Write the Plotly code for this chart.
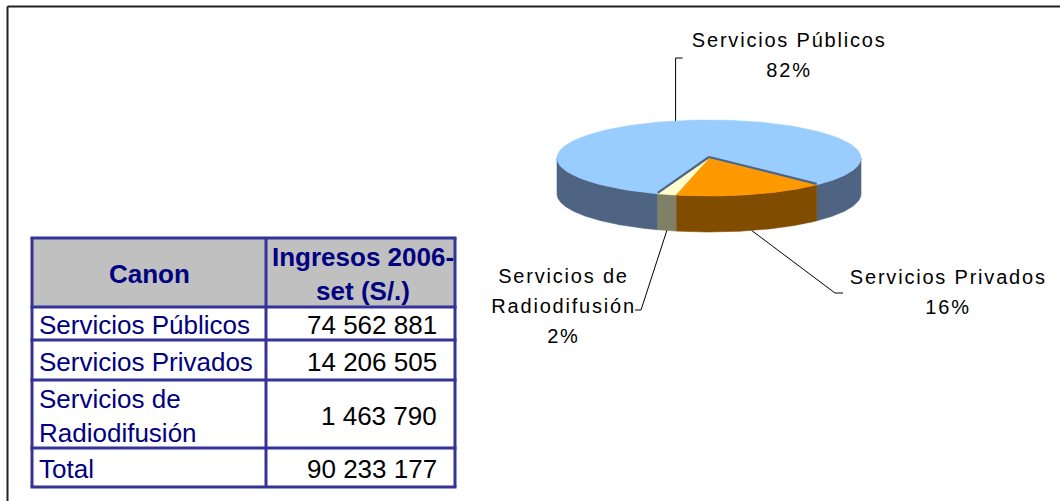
import numpy as np
import plotly.graph_objects as go

# ---- data -------------------------------------------------------------
categories = ["Servicios Públicos", "Servicios Privados", "Servicios de Radiodifusión"]
ingresos = [74562881, 14206505, 1463790]          # S/. collected, 2006 to September
total_ingresos = 90233177
pie_pct = [82, 16, 2]                             # shares shown on the pie
col_headers = ["Canon", "Ingresos 2006-<br>set (S/.)"]
total_label = "Total"

# ---- style ------------------------------------------------------------
top_colors = ["#99CCFF", "#FF9900", "#FFFFCC"]
side_colors = ["#4F6482", "#804C00", "#808066"]
FONT = "Liberation Sans, Arial, sans-serif"
NAVY = "#000080"
GRID = "#333399"

# pie geometry (page pixels): centre, radii, thickness, rotation
CX, CY, RX, RY, DEPTH = 709, 158, 152, 38, 36
ROTATION = 109.7  # degrees, clockwise from east, where the first slice begins


def wrap(label):
    return label.replace("de ", "de<br>")


def rim(t0, t1, dy=0.0, n=160):
    t = np.radians(np.linspace(t0, t1, n))
    return CX + RX * np.cos(t), CY + RY * np.sin(t) + dy


fig = go.Figure()

# slice angular extents
spans = np.array(pie_pct, dtype=float) / sum(pie_pct) * 360.0
starts = ROTATION + np.concatenate([[0], np.cumsum(spans)[:-1]])
ends = starts + spans

# outer walls facing the viewer (angles 0..180 on the screen)
for i in range(len(pie_pct)):
    for k in range(3):
        lo, hi = max(starts[i], 360 * k), min(ends[i], 360 * k + 180)
        if lo < hi:
            xt, yt = rim(lo, hi)
            xb, yb = rim(hi, lo, DEPTH)
            fig.add_trace(go.Scatter(
                x=np.concatenate([xt, xb, xt[:1]]), y=np.concatenate([yt, yb, yt[:1]]),
                mode="lines", fill="toself", fillcolor=side_colors[i],
                line=dict(color=side_colors[i], width=0.6), hoverinfo="skip"))

# top faces
for i in range(len(pie_pct)):
    xa, ya = rim(starts[i], ends[i])
    fig.add_trace(go.Scatter(
        x=np.concatenate([[CX], xa, [CX]]), y=np.concatenate([[CY], ya, [CY]]),
        mode="lines", fill="toself", fillcolor=top_colors[i],
        line=dict(color=top_colors[i], width=0.6),
        name=categories[i], hoverinfo="name"))

# exposed edges of the large slice next to the small ones
for t in (starts[0], ends[0]):
    ex, ey = rim(t, t, n=1)
    fig.add_trace(go.Scatter(x=[CX, ex[0]], y=[CY - 1, ey[0] - 1], mode="lines",
                             line=dict(color=side_colors[0], width=2.2), hoverinfo="skip"))

# ---- labels with leader lines -----------------------------------------
label_pos = [(788.5, 40), (948, 277), (563, 276)]      # centre of first text line
elbows = [(None, 58, 7), (835, 293, 8), (641, 310, -6)]
LINE_GAP = 30

for i in range(len(pie_pct)):
    mid = (starts[i] + ends[i]) / 2
    mx, my = rim(mid, mid, n=1)
    sx, sy = mx[0], my[0]
    if np.sin(np.radians(mid)) > 0:
        sy += DEPTH
    ex, ey, tick = elbows[i]
    if ex is None:
        ex = sx
    fig.add_trace(go.Scatter(x=[sx, ex, ex + tick], y=[sy, ey, ey], mode="lines",
                             line=dict(color="black", width=1), hoverinfo="skip"))

pie_ann = []
for i in range(len(pie_pct)):
    lines = wrap(categories[i]).split("<br>") + [f"{pie_pct[i]}%"]
    x0, y0 = label_pos[i]
    for j, txt in enumerate(lines):
        pie_ann.append(dict(x=x0, y=y0 + j * LINE_GAP, xref="x", yref="y", text=txt,
                            showarrow=False, xanchor="center", yanchor="middle",
                            font=dict(family=FONT, size=20, color="black")))

# ---- table ------------------------------------------------------------
col_x = [32, 266, 455]
row_y = [238, 307, 340, 380, 448, 487]

shapes = [dict(type="rect", xref="x", yref="y", x0=col_x[0], x1=col_x[-1],
               y0=row_y[0], y1=row_y[1], fillcolor="#C0C0C0", line=dict(width=0),
               layer="below")]
for y in row_y:
    shapes.append(dict(type="line", xref="x", yref="y", x0=col_x[0] - 1.5, x1=col_x[-1] + 1.5,
                       y0=y, y1=y, line=dict(color=GRID, width=3)))
for x in col_x:
    shapes.append(dict(type="line", xref="x", yref="y", x0=x, x1=x,
                       y0=row_y[0], y1=row_y[-1], line=dict(color=GRID, width=3)))

# outer frame of the page
shapes.append(dict(type="line", xref="paper", yref="paper", x0=7.5 / 1060, x1=1,
                   y0=1 - 6.5 / 501, y1=1 - 6.5 / 501, line=dict(color="#222222", width=2)))
shapes.append(dict(type="line", xref="paper", yref="paper", x0=7.5 / 1060, x1=7.5 / 1060,
                   y0=0, y1=1 - 6.5 / 501, line=dict(color="#222222", width=2)))

table_ann = []
hy = (row_y[0] + row_y[1]) / 2
table_ann.append(dict(x=(col_x[0] + col_x[1]) / 2, y=hy + 1, text=f"<b>{col_headers[0]}</b>"))
table_ann.append(dict(x=(col_x[1] + col_x[2]) / 2 + 2, y=hy + 1, text=f"<b>{col_headers[1]}</b>"))
for a in table_ann:
    a.update(xref="x", yref="y", showarrow=False, xanchor="center", yanchor="middle",
             font=dict(family=FONT, size=26, color=NAVY))

row_names = [wrap(c) for c in categories] + [total_label]
row_vals = ingresos + [total_ingresos]
for r, (name, val) in enumerate(zip(row_names, row_vals)):
    yc = (row_y[r + 1] + row_y[r + 2]) / 2 + 1.5
    table_ann.append(dict(x=col_x[0] + 5, y=yc, xref="x", yref="y", text=name,
                          showarrow=False, xanchor="left", yanchor="middle", align="left",
                          font=dict(family=FONT, size=26, color=NAVY)))
    table_ann.append(dict(x=col_x[2] - 16, y=yc, xref="x", yref="y",
                          text=f"{val:,}".replace(",", " "),
                          showarrow=False, xanchor="right", yanchor="middle",
                          font=dict(family=FONT, size=26, color="black")))

fig.update_layout(
    width=1060, height=501, margin=dict(l=0, r=0, t=0, b=0),
    paper_bgcolor="white", plot_bgcolor="white", showlegend=False,
    xaxis=dict(range=[0, 1060], visible=False, fixedrange=True),
    yaxis=dict(range=[501, 0], visible=False, fixedrange=True),
    shapes=shapes, annotations=pie_ann + table_ann,
)

n_pie = len(pie_ann)
spacing_js = (
    "document.querySelectorAll('g.annotation').forEach(function(g){"
    f"if(+g.getAttribute('data-index')<{n_pie}){{"
    "g.querySelectorAll('text').forEach(function(t){t.style.letterSpacing='1.8px';});}});"
)
fig.write_html("out.html", post_script=spacing_js)
